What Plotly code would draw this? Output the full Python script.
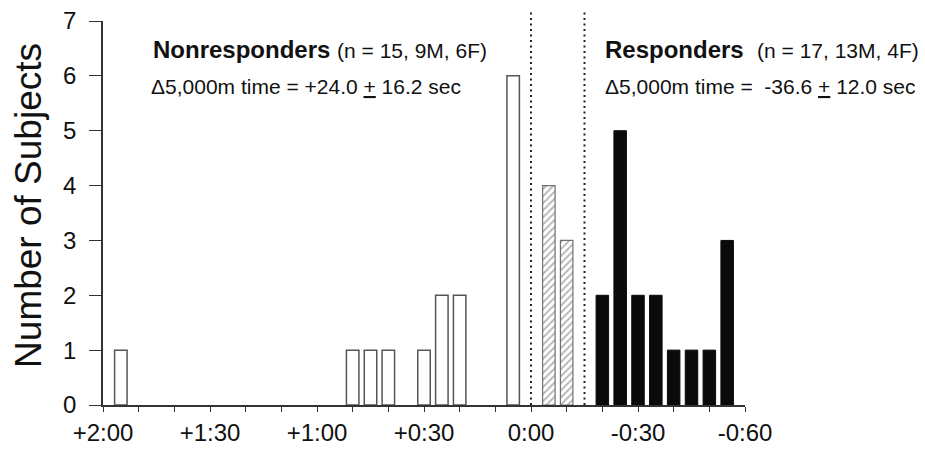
import plotly.graph_objects as go

# Change in 5,000 m time (seconds; positive = slower)
nonresp_x = [115, 50, 45, 40, 30, 25, 20, 5]
nonresp_n = [1, 1, 1, 1, 1, 2, 2, 6]
mid_x = [-5, -10]
mid_n = [4, 3]
resp_x = [-20, -25, -30, -35, -40, -45, -50, -55]
resp_n = [2, 5, 2, 2, 1, 1, 1, 3]

tick_vals = [120, 110, 100, 90, 80, 70, 60, 50, 40, 30, 20, 10, 0, -10, -20, -30, -40, -50, -60]
tick_text = ["+2:00", "", "", "+1:30", "", "", "+1:00", "", "", "+0:30", "", "", "0:00", "", "", "-0:30", "", "", "-0:60"]
divider_x = [0, -15]

FONT = "Arial, Liberation Sans, sans-serif"
BW = 3.5

fig = go.Figure()
fig.add_trace(go.Bar(x=nonresp_x, y=nonresp_n, width=BW,
                     marker=dict(color="white", line=dict(color="#555555", width=1.5)),
                     showlegend=False))
fig.add_trace(go.Bar(x=mid_x, y=mid_n, width=BW,
                     marker=dict(color="white", line=dict(color="#707070", width=1.2),
                                 pattern=dict(shape="/", fgcolor="#6a6a6a", bgcolor="white",
                                              size=5, solidity=0.35)),
                     showlegend=False))
fig.add_trace(go.Bar(x=resp_x, y=resp_n, width=BW,
                     marker=dict(color="#0a0a0a", line=dict(color="#0a0a0a", width=1)),
                     showlegend=False))

for dx in divider_x:
    fig.add_shape(type="line", xref="x", yref="paper", x0=dx, x1=dx, y0=0, y1=1.025,
                  line=dict(color="#222222", width=2, dash="2px,3.5px"))

fig.add_annotation(xref="x", yref="y", x=106.5, y=6.48, xanchor="left", yanchor="middle",
                   showarrow=False,
                   text="<b>Nonresponders</b> <span style='font-size:21px'>(n = 15, 9M, 6F)</span>",
                   font=dict(family=FONT, size=24, color="#111111"))
fig.add_annotation(xref="x", yref="y", x=107.0, y=5.8, xanchor="left", yanchor="middle",
                   showarrow=False,
                   text="Δ5,000m time = +24.0 <u>+</u> 16.2 sec",
                   font=dict(family=FONT, size=21, color="#111111"))
fig.add_annotation(xref="x", yref="y", x=-20.2, y=6.48, xanchor="left", yanchor="middle",
                   showarrow=False,
                   text="<b>Responders</b>  <span style='font-size:21px'>(n = 17, 13M, 4F)</span>",
                   font=dict(family=FONT, size=24, color="#111111"))
fig.add_annotation(xref="x", yref="y", x=-20.2, y=5.8, xanchor="left", yanchor="middle",
                   showarrow=False,
                   text="Δ5,000m time =  -36.6 <u>+</u> 12.0 sec",
                   font=dict(family=FONT, size=21, color="#111111"))
# y-axis title
fig.add_annotation(xref="paper", yref="paper", x=-0.1153, y=0.521, xanchor="center",
                   yanchor="middle", textangle=-90, showarrow=False,
                   text="Number of Subjects", font=dict(family=FONT, size=37, color="#111111"))

fig.update_layout(
    width=925, height=450,
    margin=dict(l=103, r=180, t=21, b=45),
    paper_bgcolor="white", plot_bgcolor="white",
    font=dict(family=FONT, color="#111111"),
    barmode="overlay",
    xaxis=dict(range=[120, -60], tickmode="array", tickvals=tick_vals, ticktext=tick_text,
               ticks="outside", ticklen=5, tickcolor="#333333", showline=True,
               linecolor="#333333", linewidth=1.5, showgrid=False, zeroline=False,
               automargin=False, tickfont=dict(size=24, family=FONT)),
    yaxis=dict(range=[0, 7], dtick=1, ticks="outside", ticklen=12, tickcolor="#333333",
               showline=True, linecolor="#333333", linewidth=1.5, showgrid=False,
               zeroline=False, automargin=False, ticklabelstandoff=8,
               tickfont=dict(size=24, family=FONT)),
)

fig.write_html("out.html")
